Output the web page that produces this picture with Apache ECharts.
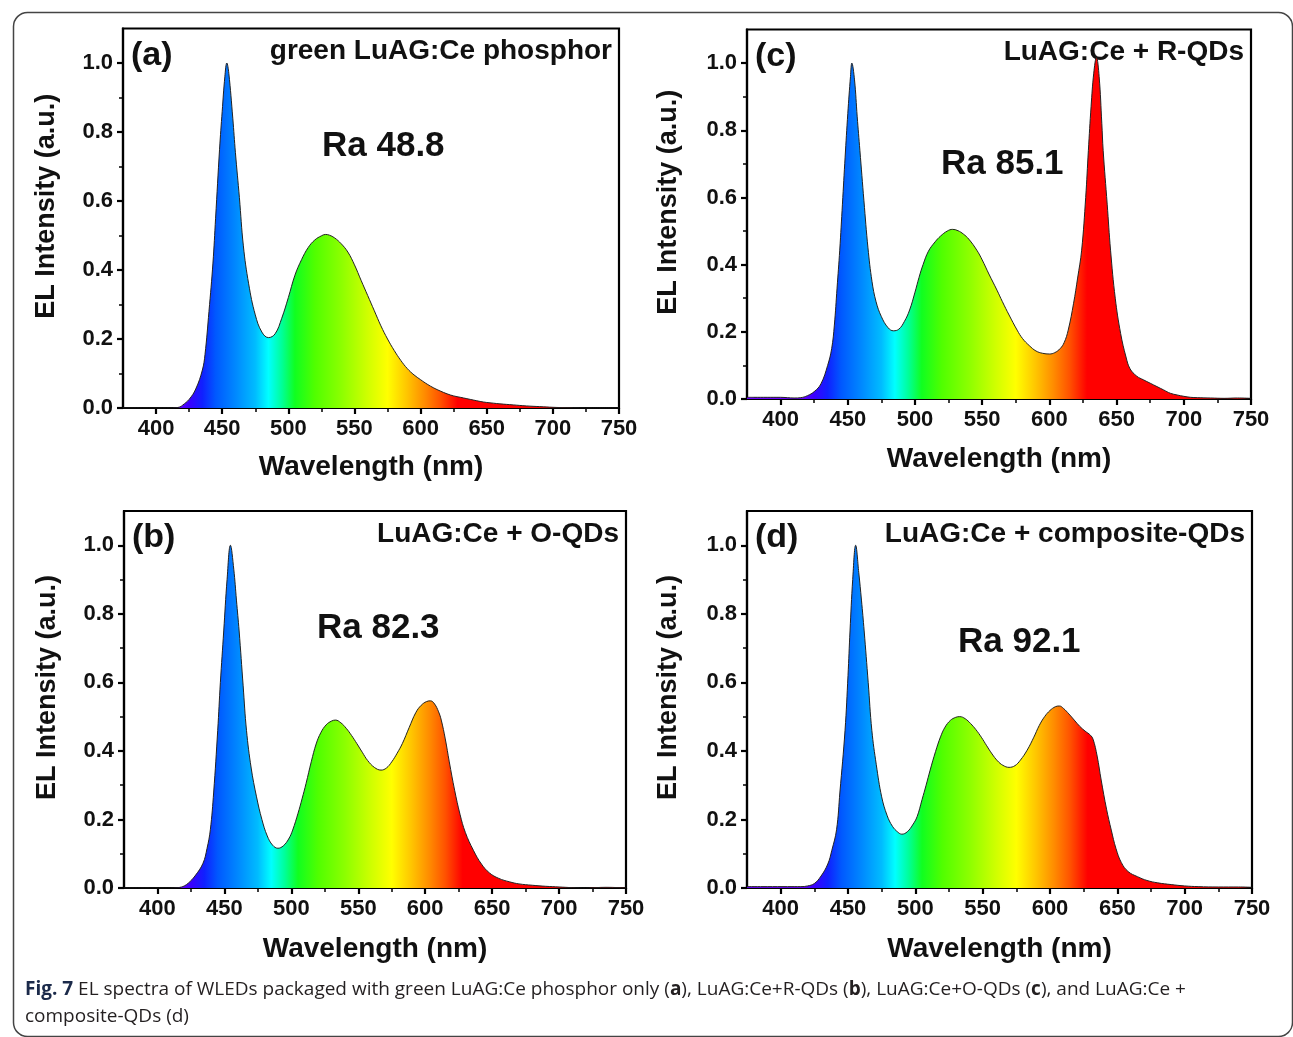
<!DOCTYPE html>
<html>
<head>
<meta charset="utf-8">
<title>EL spectra</title>
<script src="https://cdn.jsdelivr.net/npm/echarts@6.0.0/dist/echarts.min.js"></script>
<style>
  html, body { margin: 0; padding: 0; background: #fff; }
  #container { width: 1293px; height: 1037px; }
</style>
</head>
<body>
<div id="container"></div>
<script>
// tick labels
var xMajor = [400, 450, 500, 550, 600, 650, 700, 750];
var xMinor = [425, 475, 525, 575, 625, 675, 725];
var yMajor = [0, 0.2, 0.4, 0.6, 0.8, 1.0];
var yMinor = [0.1, 0.3, 0.5, 0.7, 0.9];

// (a) green LuAG:Ce phosphor
var wlA = [375, 390, 405, 415, 418, 420, 425, 430, 435, 437, 440, 443, 445, 448, 450, 452, 453.5, 455, 458, 460, 463, 466, 470, 475, 480, 485, 490, 495, 500, 505, 510, 515, 520, 525, 528, 531, 535, 540, 545, 550, 555, 560, 565, 570, 575, 580, 585, 590, 595, 600, 605, 610, 615, 620, 625, 630, 635, 640, 645, 650, 655, 660, 670, 680, 690, 700, 710, 730, 750];
var elA = [0, 0, 0, 0.001, 0.003, 0.008, 0.025, 0.055, 0.11, 0.155, 0.28, 0.42, 0.55, 0.75, 0.86, 0.96, 1.0, 0.97, 0.84, 0.74, 0.61, 0.47, 0.36, 0.27, 0.22, 0.204, 0.215, 0.26, 0.32, 0.385, 0.43, 0.465, 0.487, 0.499, 0.503, 0.501, 0.493, 0.476, 0.452, 0.415, 0.37, 0.326, 0.282, 0.238, 0.2, 0.167, 0.138, 0.114, 0.096, 0.082, 0.069, 0.058, 0.049, 0.041, 0.035, 0.031, 0.027, 0.023, 0.019, 0.016, 0.014, 0.012, 0.009, 0.006, 0.004, 0.002, 0.001, 0, 0];

// (b) LuAG:Ce + O-QDs
var wlB = [375, 390, 405, 415, 418, 420, 423, 428, 434, 437, 439.5, 442, 445, 447, 449.5, 452, 454.5, 457, 459, 461, 464, 466.5, 470, 474, 478, 482, 486, 490, 494, 498, 501, 505, 508, 511, 515, 518.5, 522, 526, 530, 533, 537, 541, 545, 549, 553, 557, 562, 567, 571, 575, 579, 583, 588, 593, 597, 601, 604, 607, 610, 612, 615, 618, 622, 626, 630, 636, 642, 648, 655, 663, 670, 680, 690, 700, 710, 720, 735, 750];
var elB = [0, 0, 0, 0.001, 0.003, 0.006, 0.014, 0.035, 0.072, 0.115, 0.17, 0.28, 0.46, 0.6, 0.75, 0.9, 1.0, 0.93, 0.84, 0.75, 0.59, 0.46, 0.35, 0.266, 0.2, 0.152, 0.125, 0.116, 0.123, 0.143, 0.169, 0.218, 0.26, 0.305, 0.37, 0.42, 0.453, 0.476, 0.487, 0.49, 0.482, 0.466, 0.445, 0.421, 0.396, 0.372, 0.352, 0.344, 0.35, 0.368, 0.393, 0.422, 0.468, 0.512, 0.533, 0.544, 0.546, 0.537, 0.514, 0.49, 0.435, 0.368, 0.285, 0.215, 0.162, 0.11, 0.07, 0.044, 0.028, 0.018, 0.012, 0.008, 0.005, 0.003, 0.001, 0, 0.002, 0];

// (c) LuAG:Ce + R-QDs
var wlC = [375, 380, 390, 400, 405, 410, 415, 420, 425, 430, 435, 438, 440, 442, 444, 446, 448, 450, 452, 453, 455, 457, 459, 462, 465, 468, 471, 475, 480, 484, 488, 492, 496, 500, 503, 506, 510, 515, 519, 524, 528, 532, 536, 540, 546, 550, 555, 561, 565, 570, 576, 580, 585, 590, 595, 600, 604, 608, 611, 614, 618, 621, 624, 627, 629, 631, 633, 635, 637, 639, 640, 643, 645.5, 649, 653, 657, 660, 665, 670, 675, 680, 685, 690, 695, 700, 705, 710, 720, 730, 740, 750];
var elC = [0.005, 0.005, 0.005, 0.005, 0.004, 0.003, 0.004, 0.01, 0.022, 0.045, 0.1, 0.15, 0.22, 0.33, 0.443, 0.58, 0.72, 0.85, 0.96, 1.0, 0.95, 0.84, 0.74, 0.59, 0.45, 0.35, 0.29, 0.245, 0.212, 0.203, 0.208, 0.23, 0.265, 0.318, 0.362, 0.4, 0.44, 0.468, 0.485, 0.5, 0.505, 0.501, 0.491, 0.476, 0.443, 0.414, 0.372, 0.324, 0.29, 0.25, 0.205, 0.18, 0.159, 0.143, 0.136, 0.134, 0.138, 0.15, 0.168, 0.205, 0.285, 0.36, 0.443, 0.6, 0.74, 0.87, 0.97, 1.017, 0.96, 0.82, 0.74, 0.58, 0.443, 0.3, 0.195, 0.125, 0.09, 0.068, 0.057, 0.047, 0.037, 0.027, 0.017, 0.012, 0.008, 0.005, 0.004, 0.003, 0.002, 0.003, 0.002];

// (d) LuAG:Ce + composite-QDs
var wlD = [375, 390, 405, 415, 420, 425, 430, 435, 438, 441.5, 444, 447.8, 450, 451.5, 453.5, 455.7, 458, 460, 462, 465, 467.7, 471, 475, 479, 483, 487, 490, 494, 498, 501.3, 505, 508, 511, 515, 518.7, 522, 526, 530, 533, 537, 541, 545, 549, 553, 557, 561, 565, 569.6, 574, 578, 583, 588, 592, 596, 600, 604, 607, 610, 614, 618, 622, 626, 630, 632, 635, 638, 642, 645.5, 649, 653, 658, 665, 672, 680, 690, 700, 710, 725, 740, 750];
var elD = [0.004, 0.004, 0.004, 0.004, 0.006, 0.013, 0.035, 0.07, 0.11, 0.17, 0.28, 0.46, 0.62, 0.75, 0.9, 1.0, 0.92, 0.84, 0.75, 0.6, 0.46, 0.36, 0.266, 0.212, 0.18, 0.163, 0.157, 0.164, 0.184, 0.208, 0.258, 0.3, 0.344, 0.398, 0.441, 0.469, 0.489, 0.498, 0.5, 0.494, 0.48, 0.462, 0.44, 0.415, 0.391, 0.371, 0.358, 0.352, 0.357, 0.373, 0.402, 0.44, 0.474, 0.5, 0.518, 0.529, 0.531, 0.524, 0.508, 0.49, 0.472, 0.458, 0.446, 0.434, 0.385, 0.315, 0.23, 0.169, 0.115, 0.074, 0.048, 0.033, 0.022, 0.015, 0.01, 0.006, 0.004, 0.003, 0.003, 0.002];

var panelTags = ["(a)", "(b)", "(c)", "(d)"];
var panelTitles = ["green LuAG:Ce phosphor", "LuAG:Ce + O-QDs", "LuAG:Ce + R-QDs", "LuAG:Ce + composite-QDs"];
var raValues = ["Ra 48.8", "Ra 82.3", "Ra 85.1", "Ra 92.1"];

var FONT = '"Liberation Sans", Arial, sans-serif';
var X_MIN = 375, X_MAX = 750;

// spectral colour under the curves (wavelength -> colour)
var spectrum = [
  [375, "#6a00ff"], [415, "#6a00ff"], [425, "#3a00ff"], [435, "#1020ff"],
  [445, "#0058ff"], [460, "#0088ff"], [475, "#00bcff"], [485, "#00ffff"],
  [495, "#00ff9a"], [505, "#10ff20"], [520, "#50ff00"], [540, "#8cff00"],
  [560, "#d0ff00"], [575, "#ffff00"], [590, "#ffc400"], [603, "#ff8c00"],
  [615, "#ff5200"], [628, "#ff0000"], [750, "#ff0000"]
];

function fillGradient() {
  var stops = spectrum.map(function (s) {
    return { offset: (s[0] - X_MIN) / (X_MAX - X_MIN), color: s[1] };
  });
  return new echarts.graphic.LinearGradient(0, 0, 1, 0, stops);
}

function zip(wl, el) {
  return wl.map(function (w, i) { return [w, el[i]]; });
}

// plot boxes: (a) top-left, (b) bottom-left, (c) top-right, (d) bottom-right
var boxes = [
  { left: 123, top: 28.5, width: 496, height: 379.5, xGap: 45, yGap: 63 },
  { left: 124, top: 511, width: 502, height: 377, xGap: 47, yGap: 63 },
  { left: 747, top: 29.5, width: 504, height: 369.5, xGap: 46, yGap: 65 },
  { left: 747, top: 511, width: 505, height: 377, xGap: 47, yGap: 65 }
];
var spectra = [zip(wlA, elA), zip(wlB, elB), zip(wlC, elC), zip(wlD, elD)];

var axisLineStyle = { color: "#000", width: 2.2 };
var grids = [], xAxes = [], yAxes = [], series = [], graphics = [];

boxes.forEach(function (b, i) {
  grids.push({
    left: b.left, top: b.top, width: b.width, height: b.height,
    show: true, borderColor: "#000", borderWidth: 2.2, containLabel: false
  });
  xAxes.push({
    type: "value", gridIndex: i, position: "bottom", min: X_MIN, max: X_MAX,
    name: "Wavelength (nm)", nameLocation: "middle", nameGap: b.xGap,
    nameTextStyle: { fontFamily: FONT, fontWeight: "bold", fontSize: 28, color: "#111" },
    axisLine: { onZero: false, lineStyle: axisLineStyle },
    axisTick: { customValues: xMajor, length: 6, lineStyle: axisLineStyle },
    axisLabel: { customValues: xMajor, margin: 10, fontFamily: FONT, fontWeight: "bold", fontSize: 22, color: "#111" },
    splitLine: { show: false }
  });
  xAxes.push({
    type: "value", gridIndex: i, position: "bottom", min: X_MIN, max: X_MAX,
    axisLine: { show: false },
    axisTick: { customValues: xMinor, length: 4, lineStyle: { color: "#000", width: 1.5 } },
    axisLabel: { show: false },
    splitLine: { show: false }
  });
  yAxes.push({
    type: "value", gridIndex: i, position: "left", min: 0, max: 1.1,
    name: "EL Intensity (a.u.)", nameLocation: "middle", nameGap: b.yGap,
    nameTextStyle: { fontFamily: FONT, fontWeight: "bold", fontSize: 27, color: "#111", padding: [0, 0, 0, 24] },
    axisLine: { onZero: false, lineStyle: axisLineStyle },
    axisTick: { customValues: yMajor, length: 6, lineStyle: axisLineStyle },
    axisLabel: {
      customValues: yMajor, margin: 10, fontFamily: FONT, fontWeight: "bold", fontSize: 22, color: "#111",
      formatter: function (v) { return v.toFixed(1); }
    },
    splitLine: { show: false }
  });
  yAxes.push({
    type: "value", gridIndex: i, position: "left", min: 0, max: 1.1,
    axisLine: { show: false },
    axisTick: { customValues: yMinor, length: 4, lineStyle: { color: "#000", width: 1.5 } },
    axisLabel: { show: false },
    splitLine: { show: false }
  });
  series.push({
    type: "line", xAxisIndex: 2 * i, yAxisIndex: 2 * i,
    data: spectra[i], showSymbol: false, smooth: 0.4, silent: true,
    lineStyle: { color: "#222", width: 1 },
    areaStyle: { color: fillGradient(), opacity: 1 }
  });

  // panel tag and sample name
  graphics.push({
    type: "text", left: b.left + 8, top: b.top + 10,
    style: { text: panelTags[i], font: "bold 34px " + FONT, fill: "#111" }
  });
  graphics.push({
    type: "text", right: 1293 - (b.left + b.width) + 7, top: b.top + 9,
    style: { text: panelTitles[i], font: "bold 28px " + FONT, fill: "#111" }
  });
});

graphics.push({ type: "text", left: 322, top: 129, style: { text: raValues[0], font: "bold 35px " + FONT, fill: "#111" } });
graphics.push({ type: "text", left: 317, top: 611, style: { text: raValues[1], font: "bold 35px " + FONT, fill: "#111" } });
graphics.push({ type: "text", left: 941, top: 147, style: { text: raValues[2], font: "bold 35px " + FONT, fill: "#111" } });
graphics.push({ type: "text", left: 958, top: 625, style: { text: raValues[3], font: "bold 35px " + FONT, fill: "#111" } });

// rounded frame and caption
graphics.push({
  type: "rect", left: 11, top: 10, z: -1,
  shape: { width: 1279, height: 1024, r: 14 },
  style: { fill: "none", stroke: "#444", lineWidth: 1.5 }
});
var capBase = { fontFamily: "Open Sans", fontSize: 19, fill: "#231f20" };
var capBold = { fontFamily: "Open Sans", fontSize: 19, fontWeight: "bold", fill: "#231f20" };
var capFig = { fontFamily: "Open Sans", fontSize: 19, fontWeight: "bold", fill: "#1b2a4a" };
graphics.push({
  type: "text", left: 25, top: 980,
  style: {
    text: "{f|Fig. 7} {n|EL spectra of WLEDs packaged with green LuAG:Ce phosphor only (}{b|a}{n|), LuAG:Ce+R-QDs (}{b|b}{n|), LuAG:Ce+O-QDs (}{b|c}{n|), and LuAG:Ce +}",
    fontFamily: "Open Sans", fontSize: 19, fill: "#231f20",
    rich: { f: capFig, n: capBase, b: capBold }
  }
});
graphics.push({
  type: "text", left: 25, top: 1007,
  style: { text: "composite-QDs (d)", fontFamily: "Open Sans", fontSize: 19, fill: "#231f20" }
});

var chart = echarts.init(document.getElementById("container"));
chart.setOption({
  animation: false,
  backgroundColor: "#fff",
  grid: grids,
  xAxis: xAxes,
  yAxis: yAxes,
  series: series,
  graphic: graphics
});
</script>
</body>
</html>
